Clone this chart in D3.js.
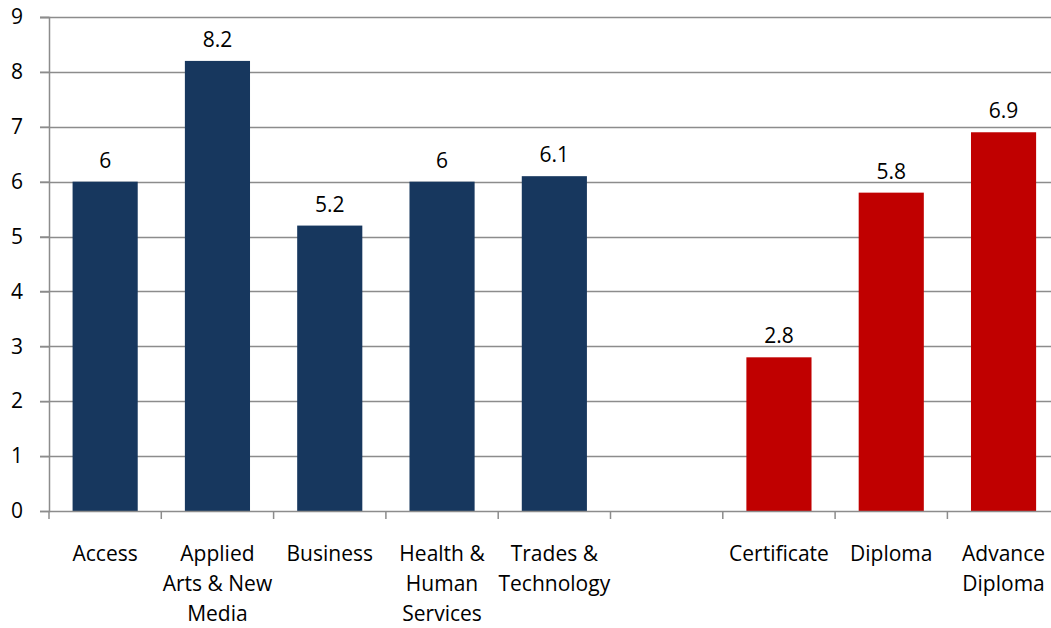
<!DOCTYPE html>
<html>
<head>
<meta charset="utf-8">
<script src="https://cdn.jsdelivr.net/npm/d3@7"></script>
<style>
  body { margin: 0; background: #fff; }
  text { font-family: "Open Sans", sans-serif; fill: #000; }
</style>
</head>
<body>
<script>
// categories, one blank slot between the two groups
var categories = ["Access", "Applied Arts & New Media", "Business", "Health & Human Services",
                  "Trades & Technology", "", "Certificate", "Diploma", "Advance Diploma"];
// how each label is broken into lines
var labelLines = [["Access"], ["Applied", "Arts & New", "Media"], ["Business"],
                  ["Health &", "Human", "Services"], ["Trades &", "Technology"], [],
                  ["Certificate"], ["Diploma"], ["Advance", "Diploma"]];
var values = [6, 8.2, 5.2, 6, 6.1, null, 2.8, 5.8, 6.9];
var groups = ["program", "program", "program", "program", "program", "", "credential", "credential", "credential"];
var yTicks = [0, 1, 2, 3, 4, 5, 6, 7, 8, 9];

var width = 1051, height = 628;
var plotLeft = 49, plotTop = 17, plotBottom = 511;
var band = 112.3;

var svg = d3.select('body').append('svg')
    .attr('width', width)
    .attr('height', height);

var keys = categories.map(function (c, i) { return i; });
var x = d3.scaleBand()
    .domain(keys)
    .range([plotLeft, plotLeft + band * keys.length])
    .paddingInner(0.42)
    .paddingOuter(0.21);

var y = d3.scaleLinear().domain([0, 9]).range([plotBottom, plotTop]);

var color = d3.scaleOrdinal().domain(["program", "credential"]).range(["#17375E", "#C00000"]);

// gridlines
svg.append('g')
    .selectAll('line')
    .data(yTicks.slice(1))
    .enter()
    .append('line')
    .attr('x1', plotLeft - 9)
    .attr('x2', width)
    .attr('y1', function (d) { return Math.round(y(d)) + 0.5; })
    .attr('y2', function (d) { return Math.round(y(d)) + 0.5; })
    .attr('stroke', '#8c8c8c')
    .attr('stroke-width', 1.5);

// y axis
var yAxis = svg.append('g')
    .attr('transform', 'translate(' + plotLeft + ',0)')
    .call(d3.axisLeft(y).tickValues(yTicks).tickSize(9).tickPadding(17));
yAxis.select('.domain').attr('stroke', '#8c8c8c').attr('stroke-width', 1.5);
yAxis.selectAll('.tick line').attr('stroke', '#8c8c8c').attr('stroke-width', 1.5);
yAxis.selectAll('.tick text')
    .style('font-family', '"Open Sans", sans-serif')
    .style('font-size', '21px')
    .attr('fill', '#000');

// bars
svg.append('g')
    .selectAll('rect')
    .data(keys.filter(function (i) { return values[i] != null; }))
    .enter()
    .append('rect')
    .attr('x', function (i) { return x(i); })
    .attr('y', function (i) { return y(values[i]); })
    .attr('width', x.bandwidth())
    .attr('height', function (i) { return y(0) - y(values[i]); })
    .attr('fill', function (i) { return color(groups[i]); });

// value labels
svg.append('g')
    .selectAll('text')
    .data(keys.filter(function (i) { return values[i] != null; }))
    .enter()
    .append('text')
    .attr('x', function (i) { return x(i) + x.bandwidth() / 2; })
    .attr('y', function (i) { return y(values[i]) - 14; })
    .attr('text-anchor', 'middle')
    .style('font-size', '21px')
    .text(function (i) { return values[i]; });

// x axis line and category ticks
svg.append('line')
    .attr('x1', plotLeft).attr('x2', width)
    .attr('y1', plotBottom + 0.5).attr('y2', plotBottom + 0.5)
    .attr('stroke', '#8c8c8c').attr('stroke-width', 1.5);

svg.append('g')
    .selectAll('line')
    .data(d3.range(keys.length + 1))
    .enter()
    .append('line')
    .attr('x1', function (i) { return plotLeft + i * band; })
    .attr('x2', function (i) { return plotLeft + i * band; })
    .attr('y1', plotBottom)
    .attr('y2', plotBottom + 8)
    .attr('stroke', '#8c8c8c')
    .attr('stroke-width', 1.5);

// category labels
var labels = svg.append('g')
    .selectAll('text')
    .data(keys)
    .enter()
    .append('text')
    .attr('text-anchor', 'middle')
    .style('font-size', '21px');

labels.selectAll('tspan')
    .data(function (i) {
        return labelLines[i].map(function (t) { return { t: t, cx: x(i) + x.bandwidth() / 2 }; });
    })
    .enter()
    .append('tspan')
    .attr('x', function (d) { return d.cx; })
    .attr('y', function (d, j) { return 561 + j * 30; })
    .text(function (d) { return d.t; });
</script>
</body>
</html>
